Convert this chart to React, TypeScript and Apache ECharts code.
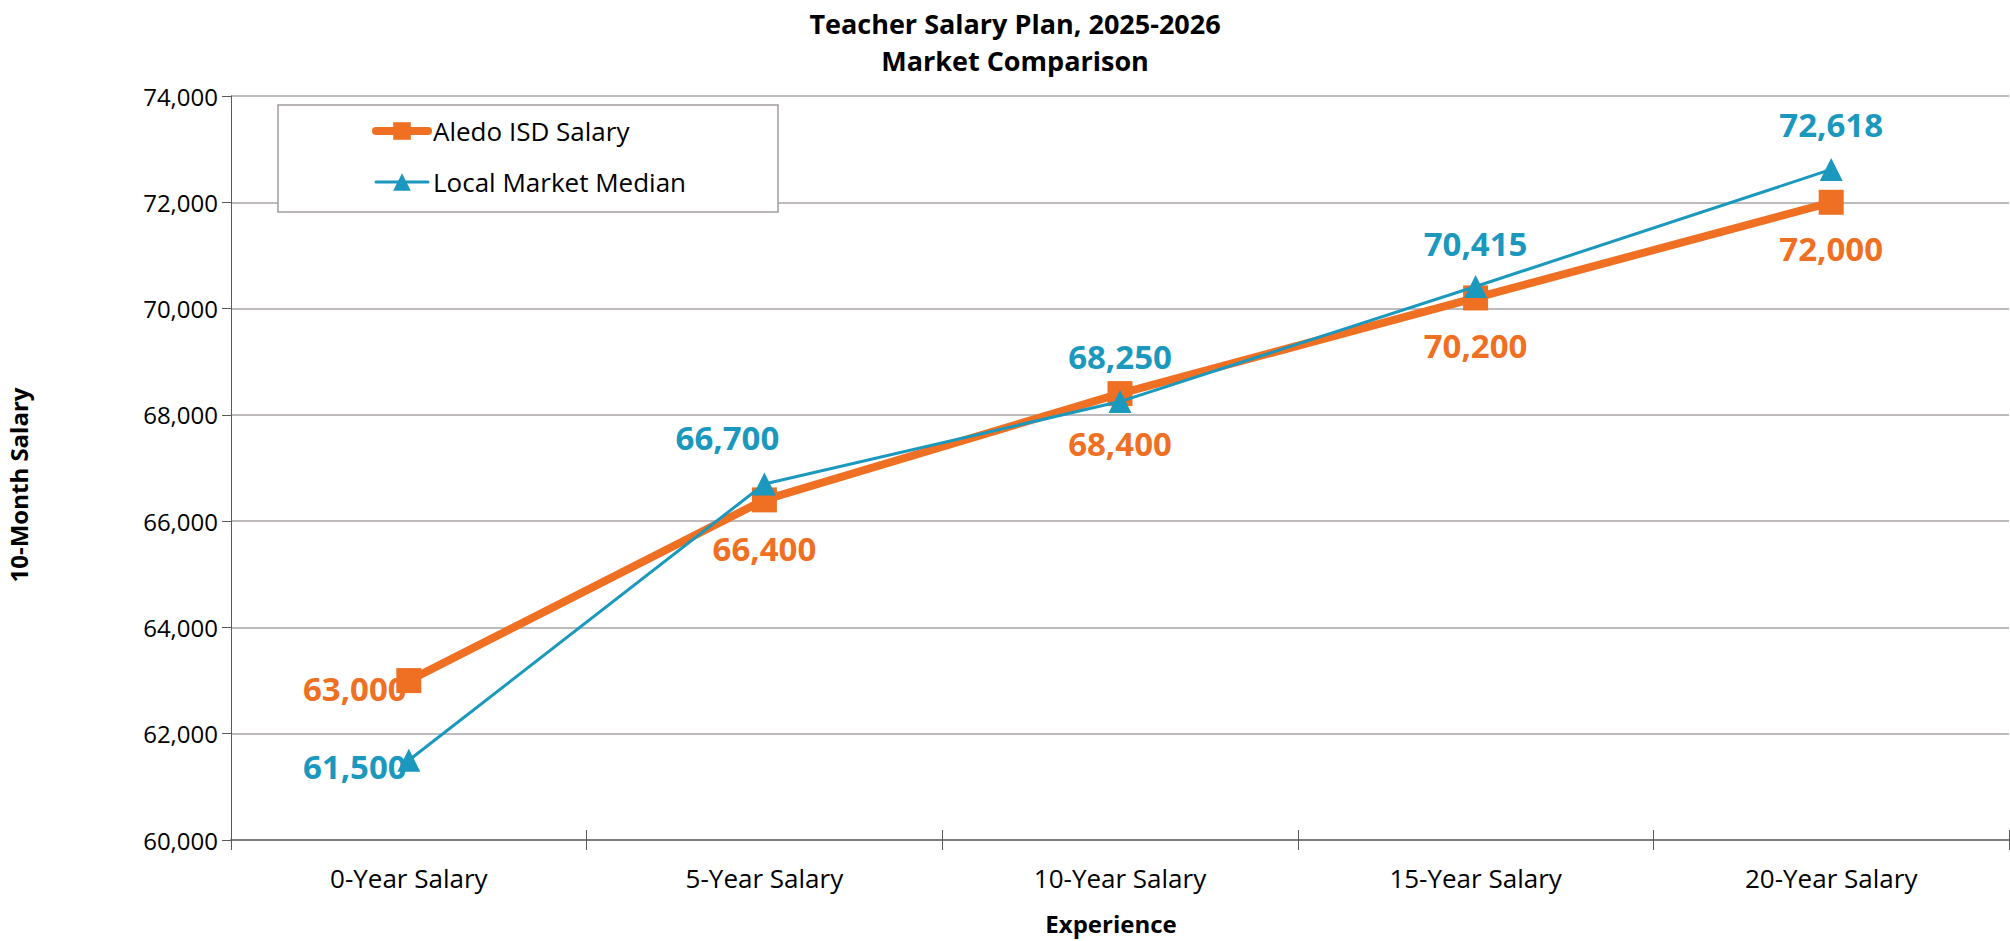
import React, { useEffect, useRef } from "react";
import * as echarts from "echarts";

const categories = ["0-Year Salary", "5-Year Salary", "10-Year Salary", "15-Year Salary", "20-Year Salary"];
const aledoSalary = [63000, 66400, 68400, 70200, 72000];
const marketMedian = [61500, 66700, 68250, 70415, 72618];
const yTicks = { min: 60000, max: 74000, interval: 2000 };

// label layout (offsets from point centre, px)
const aledoLabelOffsets = [[-54, 8], [0, 49], [0, 50], [0, 48], [0, 46]];
const marketLabelOffsets = [[-54, 6], [-37, -46], [0, -45], [0, -43], [0, -45]];

const ORANGE = "#EF6F23";
const BLUE = "#1A98BD";
const FONT = "'Open Sans', 'Noto Sans', sans-serif";

const fmt = (v: number) => v.toLocaleString("en-US");

export default function App() {
  const ref = useRef<HTMLDivElement>(null);
  useEffect(() => {
    if (!ref.current) return;
    const chart = echarts.init(ref.current, undefined, { renderer: "svg" });
    const mk = (vals: number[], offs: number[][]) =>
      vals.map((v, i) => ({
        value: v,
        label: { offset: offs[i] },
      }));
    chart.setOption({
      animation: false,
      backgroundColor: "#ffffff",
      textStyle: { fontFamily: FONT },
      title: {
        text: "Teacher Salary Plan, 2025-2026\nMarket Comparison",
        left: 1010,
        top: 0,
        textAlign: "center",
        textStyle: { fontFamily: FONT, fontWeight: "bold", fontSize: 27, lineHeight: 37, color: "#000" },
      },
      grid: { left: 231, right: 1, top: 96, bottom: 101, containLabel: false },
      legend: {
        orient: "vertical",
        left: 372,
        top: 117,
        padding: 0,
        itemGap: 23,
        itemWidth: 52,
        itemHeight: 22,
        z: 10,
        textStyle: { fontFamily: FONT, fontSize: 26, color: "#000", lineHeight: 28 },
        data: [
          { name: "Aledo ISD Salary", lineStyle: { width: 8, cap: "round" } },
          { name: "Local Market Median", lineStyle: { width: 3, cap: "round" } },
        ],
      },
      graphic: [
        {
          type: "rect",
          z: 5,
          shape: { x: 278, y: 105, width: 500, height: 107 },
          style: { fill: "#fff", stroke: "#A09AA0", lineWidth: 1.5 },
        },
        {
          type: "text",
          x: 18,
          y: 485,
          rotation: Math.PI / 2,
          style: {
            text: "10-Month Salary",
            fontFamily: FONT,
            fontWeight: "bold",
            fontSize: 24,
            fill: "#000",
            align: "center",
            verticalAlign: "middle",
          },
        },
        {
          type: "text",
          x: 1111,
          y: 923,
          style: {
            text: "Experience",
            fontFamily: FONT,
            fontWeight: "bold",
            fontSize: 24,
            fill: "#000",
            align: "center",
            verticalAlign: "middle",
          },
        },
      ],
      xAxis: [
        {
          type: "category",
          data: categories,
          boundaryGap: true,
          axisLine: { lineStyle: { color: "#7F7F7F", width: 2 } },
          axisTick: { show: true, length: 10, lineStyle: { color: "#595959", width: 1 } },
          axisLabel: { fontFamily: FONT, fontSize: 26, color: "#000", margin: 25 },
          splitLine: { show: false },
        },
        {
          type: "category",
          data: categories,
          position: "bottom",
          boundaryGap: true,
          axisLine: { show: false },
          axisTick: { show: true, inside: true, length: 10, lineStyle: { color: "#595959", width: 1 } },
          axisLabel: { show: false },
          splitLine: { show: false },
        },
      ],
      yAxis: {
        type: "value",
        min: yTicks.min,
        max: yTicks.max,
        interval: yTicks.interval,
        axisLine: { show: true, lineStyle: { color: "#595959", width: 1 } },
        axisTick: { show: true, length: 9, lineStyle: { color: "#595959" } },
        axisLabel: { fontFamily: FONT, fontSize: 24, color: "#000", margin: 13, formatter: (v: number) => fmt(v) },
        splitLine: { lineStyle: { color: "#A8A3A8", width: 1.5 } },
      },
      series: [
        {
          name: "Aledo ISD Salary",
          type: "line",
          data: mk(aledoSalary, aledoLabelOffsets),
          symbol: "rect",
          symbolSize: 25,
          color: ORANGE,
          lineStyle: { color: ORANGE, width: 8 },
          itemStyle: { color: ORANGE },
          label: {
            show: true,
            position: "inside",
            formatter: (p: any) => fmt(p.value),
            fontFamily: FONT,
            fontWeight: "bold",
            fontSize: 33,
            color: ORANGE,
          },
          z: 2,
        },
        {
          name: "Local Market Median",
          type: "line",
          data: mk(marketMedian, marketLabelOffsets),
          symbol: "triangle",
          symbolSize: 23,
          color: BLUE,
          lineStyle: { color: BLUE, width: 3 },
          itemStyle: { color: BLUE },
          label: {
            show: true,
            position: "inside",
            formatter: (p: any) => fmt(p.value),
            fontFamily: FONT,
            fontWeight: "bold",
            fontSize: 33,
            color: BLUE,
          },
          z: 3,
        },
      ],
    });
    return () => chart.dispose();
  }, []);
  return (
    <div
      ref={ref}
      style={{ position: "absolute", left: 0, top: 0, width: 2010, height: 941 }}
    />
  );
}
